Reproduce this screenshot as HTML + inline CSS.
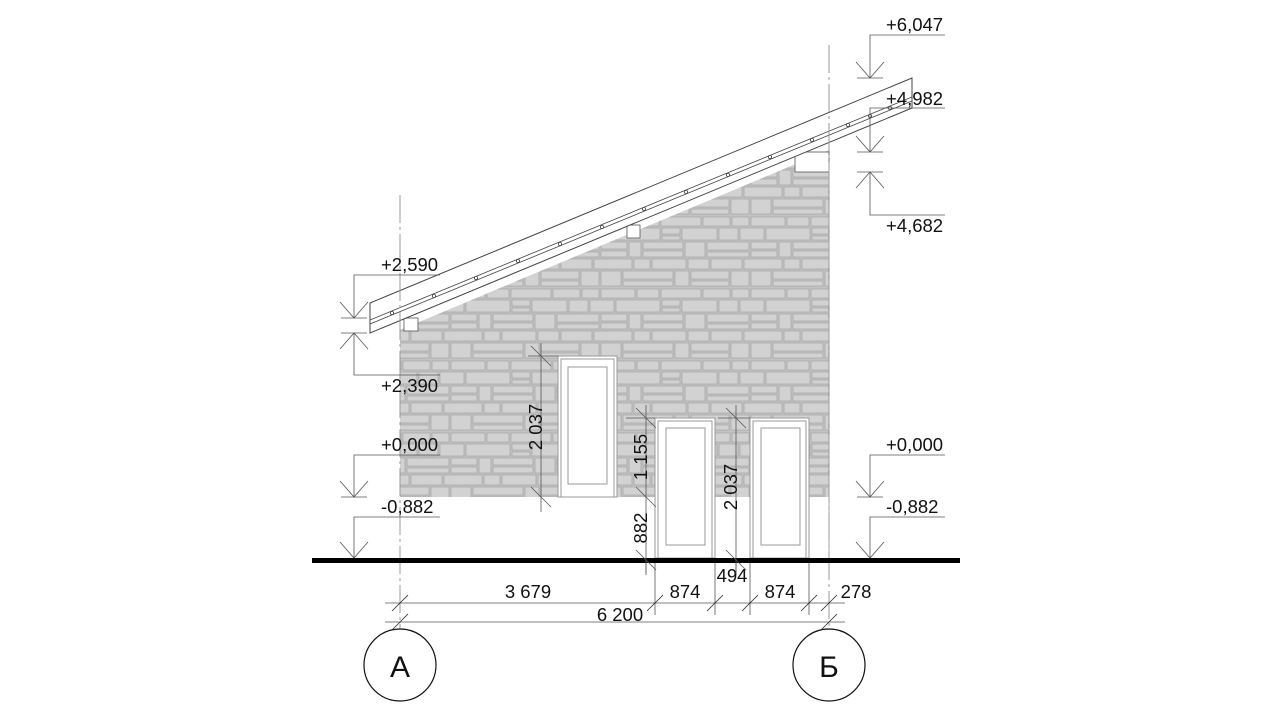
<!DOCTYPE html>
<html><head><meta charset="utf-8"><style>
html,body{margin:0;padding:0;background:#fff;width:1280px;height:720px;overflow:hidden}
svg{display:block}
text{font-family:"Liberation Sans",sans-serif;font-size:18.5px;fill:#111}
</style></head><body>
<svg width="1280" height="720" viewBox="0 0 1280 720" xmlns="http://www.w3.org/2000/svg">
<defs>
<pattern id="st" width="150" height="72" patternUnits="userSpaceOnUse">
<rect width="150" height="72" fill="#c3c3c3"/>
<g fill="#d2d2d2" stroke="#a6a6a6" stroke-width="0.7">
<rect x="1" y="1" width="34" height="9"/><rect x="37" y="1" width="22" height="9"/><rect x="61" y="1" width="40" height="9"/><rect x="103" y="1" width="27" height="9"/><rect x="132" y="1" width="17" height="9"/>
<rect x="-12" y="12" width="26" height="12"/><rect x="16" y="12" width="44" height="12"/><rect x="62" y="12" width="18" height="6"/><rect x="62" y="20" width="18" height="4"/><rect x="82" y="12" width="35" height="12"/><rect x="119" y="12" width="19" height="12"/><rect x="140" y="12" width="24" height="12"/>
<rect x="1" y="26" width="26" height="7"/><rect x="1" y="35" width="26" height="6"/><rect x="29" y="26" width="12" height="15"/><rect x="43" y="26" width="40" height="7"/><rect x="43" y="35" width="40" height="6"/><rect x="85" y="26" width="20" height="15"/><rect x="107" y="26" width="42" height="8"/><rect x="107" y="36" width="42" height="5"/>
<rect x="-8" y="43" width="40" height="10"/><rect x="34" y="43" width="16" height="10"/><rect x="52" y="43" width="34" height="10"/><rect x="88" y="43" width="21" height="10"/><rect x="111" y="43" width="31" height="10"/><rect x="144" y="43" width="24" height="10"/>
<rect x="1" y="55" width="20" height="15"/><rect x="23" y="55" width="50" height="8"/><rect x="23" y="65" width="50" height="5"/><rect x="75" y="55" width="14" height="15"/><rect x="91" y="55" width="38" height="8"/><rect x="91" y="65" width="38" height="5"/><rect x="131" y="55" width="18" height="15"/>
</g>
</pattern>
</defs>

<polygon points="400,330 829,150 829,497 400,497" fill="url(#st)"/>
<line x1="829" y1="150" x2="829" y2="497" stroke="#888" stroke-width="1"/>
<rect x="795" y="152" width="34" height="20" fill="#fff" stroke="#555" stroke-width="0.8"/>
<rect x="404" y="318" width="14" height="13" fill="#fff" stroke="#555" stroke-width="0.8"/>
<rect x="627" y="225" width="13" height="13" fill="#fff" stroke="#555" stroke-width="0.8"/>

<polygon points="370,303 912,78 912,108 370,333" fill="#fff" stroke="#444" stroke-width="1"/>
<line x1="370" y1="320" x2="912" y2="97" stroke="#444" stroke-width="0.8"/>
<line x1="370" y1="324" x2="912" y2="101" stroke="#444" stroke-width="0.8"/>
<g fill="#fff" stroke="#444" stroke-width="0.8">
<circle cx="392" cy="313" r="1.6"/><circle cx="434" cy="296" r="1.6"/><circle cx="476" cy="278" r="1.6"/><circle cx="518" cy="261" r="1.6"/><circle cx="560" cy="244" r="1.6"/><circle cx="602" cy="227" r="1.6"/><circle cx="644" cy="209" r="1.6"/><circle cx="686" cy="192" r="1.6"/><circle cx="728" cy="175" r="1.6"/><circle cx="770" cy="157" r="1.6"/><circle cx="812" cy="140" r="1.6"/><circle cx="848" cy="125" r="1.6"/><circle cx="870" cy="116" r="1.6"/><circle cx="890" cy="108" r="1.6"/>
</g>

<g fill="#fff" stroke="#999" stroke-width="1">
<rect x="558" y="356" width="59" height="141"/>
<rect x="561" y="359" width="53" height="138"/>
<rect x="568" y="367" width="39" height="117"/>
<rect x="655" y="418" width="60" height="140"/>
<rect x="658" y="421" width="54" height="137"/>
<rect x="666" y="428" width="39" height="117"/>
<rect x="750" y="418" width="59" height="140"/>
<rect x="753" y="421" width="53" height="137"/>
<rect x="761" y="428" width="39" height="117"/>
</g>
<line x1="829" y1="497" x2="829" y2="558" stroke="#aaa" stroke-width="1"/>

<g stroke="#999" stroke-width="1" stroke-dasharray="28,4,3,4">
<line x1="400" y1="195" x2="400" y2="630"/>
<line x1="829" y1="45" x2="829" y2="630"/>
</g>
<circle cx="400" cy="665" r="36" fill="#fff" stroke="#111" stroke-width="1.2"/>
<circle cx="829" cy="665" r="36" fill="#fff" stroke="#111" stroke-width="1.2"/>
<text x="400" y="677" text-anchor="middle" style="font-size:30px">А</text>
<text x="829" y="677" text-anchor="middle" style="font-size:30px">Б</text>

<rect x="312" y="558" width="648" height="5" fill="#000"/>

<g stroke="#555" stroke-width="0.8" fill="none">
<line x1="385" y1="603" x2="845" y2="603"/>
<line x1="385" y1="622" x2="845" y2="622"/>
<line x1="655" y1="563" x2="655" y2="615"/>
<line x1="715" y1="563" x2="715" y2="615"/>
<line x1="750" y1="563" x2="750" y2="615"/>
<line x1="809" y1="563" x2="809" y2="615"/>
<line x1="646" y1="563" x2="646" y2="575"/>
<line x1="736" y1="563" x2="736" y2="575"/>
<g stroke="#222">
<line x1="392" y1="611" x2="408" y2="595"/><line x1="647" y1="611" x2="663" y2="595"/><line x1="707" y1="611" x2="723" y2="595"/><line x1="742" y1="611" x2="758" y2="595"/><line x1="801" y1="611" x2="817" y2="595"/><line x1="821" y1="611" x2="837" y2="595"/>
<line x1="392" y1="630" x2="408" y2="614"/><line x1="821" y1="630" x2="837" y2="614"/>
</g>
</g>
<text x="528" y="598" text-anchor="middle">3 679</text>
<text x="685" y="598" text-anchor="middle">874</text>
<text x="780" y="598" text-anchor="middle">874</text>
<text x="856" y="598" text-anchor="middle">278</text>
<text x="620" y="621" text-anchor="middle">6 200</text>
<text x="732" y="582" text-anchor="middle">494</text>

<g stroke="#555" stroke-width="0.8">
<line x1="541" y1="343" x2="541" y2="512"/>
<line x1="528" y1="356" x2="558" y2="356"/>
<line x1="531" y1="346" x2="551" y2="366"/><line x1="531" y1="487" x2="551" y2="507"/>
<line x1="646" y1="405" x2="646" y2="573"/>
<line x1="626" y1="418" x2="655" y2="418"/>
<line x1="636" y1="408" x2="656" y2="428"/><line x1="636" y1="487" x2="656" y2="507"/><line x1="636" y1="550" x2="656" y2="570"/>
<line x1="736" y1="405" x2="736" y2="573"/>
<line x1="718" y1="418" x2="750" y2="418"/>
<line x1="726" y1="408" x2="746" y2="428"/><line x1="726" y1="550" x2="746" y2="570"/>
</g>
<text transform="translate(542,427) rotate(-90)" text-anchor="middle">2 037</text>
<text transform="translate(647,457) rotate(-90)" text-anchor="middle">1 155</text>
<text transform="translate(647,528) rotate(-90)" text-anchor="middle">882</text>
<text transform="translate(737,487) rotate(-90)" text-anchor="middle">2 037</text>

<g stroke="#555" stroke-width="0.8" fill="none">
<polyline points="440,275 354,275 354,318"/><line x1="341" y1="318" x2="367" y2="318"/><polyline points="340,302 354,318 368,302"/>
<polyline points="440,375 354,375 354,333"/><line x1="341" y1="333" x2="367" y2="333"/><polyline points="340,349 354,333 368,349"/>
<polyline points="440,455 354,455 354,497"/><line x1="341" y1="497" x2="367" y2="497"/><polyline points="340,481 354,497 368,481"/>
<polyline points="440,517 354,517 354,558"/><polyline points="340,542 354,558 368,542"/>
<polyline points="945,35 870,35 870,78"/><line x1="857" y1="78" x2="883" y2="78"/><polyline points="856,62 870,78 884,62"/>
<polyline points="945,108 870,108 870,152"/><line x1="857" y1="152" x2="883" y2="152"/><polyline points="856,136 870,152 884,136"/>
<polyline points="945,215 870,215 870,172"/><line x1="857" y1="172" x2="883" y2="172"/><polyline points="856,188 870,172 884,188"/>
<polyline points="945,455 870,455 870,497"/><line x1="857" y1="497" x2="883" y2="497"/><polyline points="856,481 870,497 884,481"/>
<polyline points="945,517 870,517 870,558"/><polyline points="856,542 870,558 884,542"/>
</g>
<text x="381" y="271">+2,590</text>
<text x="381" y="392">+2,390</text>
<text x="381" y="451">+0,000</text>
<text x="381" y="513">-0,882</text>
<text x="886" y="31">+6,047</text>
<text x="886" y="105">+4,982</text>
<text x="886" y="232">+4,682</text>
<text x="886" y="451">+0,000</text>
<text x="886" y="513">-0,882</text>
</svg>
</body></html>
